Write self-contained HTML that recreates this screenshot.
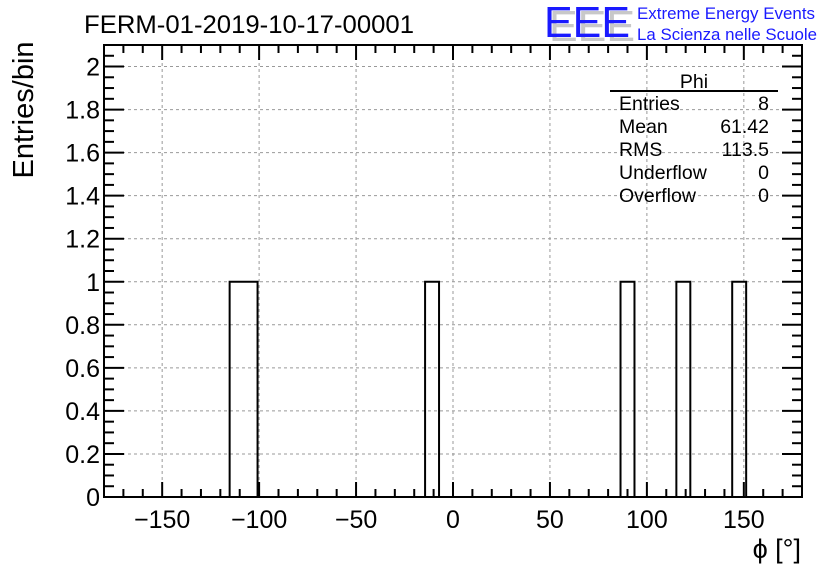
<!DOCTYPE html>
<html><head><meta charset="utf-8"><style>
html,body{margin:0;padding:0;background:#fff;width:836px;height:572px;overflow:hidden}
svg{display:block;font-family:"Liberation Sans",sans-serif}
</style></head><body>
<svg id="chart" width="836" height="572" viewBox="0 0 836 572">
<g id="grid"></g>
<g id="hist"></g>
<g id="axes"></g>
<text x="84" y="33" font-size="25" textLength="330" lengthAdjust="spacingAndGlyphs">FERM-01-2019-10-17-00001</text>
<text transform="translate(33,110) rotate(-90)" text-anchor="middle" font-size="29">Entries/bin</text>
<text x="801" y="558" text-anchor="end" font-size="27">ϕ [°]</text>
<g>
<text x="549" y="41" font-size="44" fill="#c8c8c8" textLength="86" lengthAdjust="spacingAndGlyphs">EEE</text>
<text x="544" y="37" font-size="44" fill="#1a1aff" textLength="86" lengthAdjust="spacingAndGlyphs">EEE</text>
<text x="637" y="19" font-size="17" fill="#1a1aff" textLength="178" lengthAdjust="spacingAndGlyphs">Extreme Energy Events</text>
<text x="637" y="40" font-size="17" fill="#1a1aff" textLength="180" lengthAdjust="spacingAndGlyphs">La Scienza nelle Scuole</text>
</g>
<g font-size="19.5">
<text x="694" y="88" text-anchor="middle">Phi</text>
<line x1="610" y1="91" x2="778" y2="91" stroke="#000" stroke-width="2"/>
<text x="619" y="110">Entries</text><text x="769" y="110" text-anchor="end">8</text>
<text x="619" y="133">Mean</text><text x="769" y="133" text-anchor="end">61.42</text>
<text x="619" y="156">RMS</text><text x="769" y="156" text-anchor="end">113.5</text>
<text x="619" y="179">Underflow</text><text x="769" y="179" text-anchor="end">0</text>
<text x="619" y="202">Overflow</text><text x="769" y="202" text-anchor="end">0</text>
</g>
</svg>
<script>
const binEdgesStart = [-180];
const binWidth = [7.2];
const binCounts = [0,0,0,0,0,0,0,0,0,1,1,0,0,0,0,0,0,0,0,0,0,0,0,1,0,0,0,0,0,0,0,0,0,0,0,0,0,1,0,0,0,1,0,0,0,1,0,0,0,0];
const xTicks = [-150,-100,-50,0,50,100,150];
const xTickLabels = ["\u2212150","\u2212100","\u221250","0","50","100","150"];
const yTicks = [0,0.2,0.4,0.6,0.8,1,1.2,1.4,1.6,1.8,2];
const yTickLabels = ["0","0.2","0.4","0.6","0.8","1","1.2","1.4","1.6","1.8","2"];
const L=104,R=802,T=45,B=497,XMIN=-180,XMAX=180,YMIN=0,YMAX=2.1;
const sx=v=>L+(v-XMIN)/(XMAX-XMIN)*(R-L);
const sy=v=>B-(v-YMIN)/(YMAX-YMIN)*(B-T);
const NS="http://www.w3.org/2000/svg";
function mk(tag,attrs,parent){const e=document.createElementNS(NS,tag);for(const k in attrs)e.setAttribute(k,attrs[k]);parent.appendChild(e);return e;}
const grid=document.getElementById('grid'),axes=document.getElementById('axes'),hist=document.getElementById('hist');
xTicks.forEach(v=>{const l=mk('line',{x1:sx(v),x2:sx(v),y1:T,y2:B,stroke:'#999','stroke-width':1,'stroke-dasharray':'3,3'},grid);

});
yTicks.forEach(v=>{const l=mk('line',{x1:L,x2:R,y1:sy(v),y2:sy(v),stroke:'#999','stroke-width':1,'stroke-dasharray':'3,3'},grid);

});
let d='M'+sx(XMIN)+','+sy(0);
binCounts.forEach((c,i)=>{const x0=sx(binEdgesStart[0]+i*binWidth[0]),x1=sx(binEdgesStart[0]+(i+1)*binWidth[0]);d+=' L'+x0+','+sy(c)+' L'+x1+','+sy(c);});
d+=' L'+sx(XMAX)+','+sy(0);
const hp=mk('path',{d:d,fill:'none',stroke:'#000','stroke-width':2},hist);


binCounts.forEach((c,i)=>{if(c>0){const x0=sx(binEdgesStart[0]+i*binWidth[0]),x1=sx(binEdgesStart[0]+(i+1)*binWidth[0]);
const r=mk('rect',{x:x0,y:sy(c),width:x1-x0,height:sy(0)-sy(c),fill:'none',stroke:'none'},hist);

}});
mk('rect',{x:L,y:T,width:R-L,height:B-T,fill:'none',stroke:'#000','stroke-width':2},axes);
for(let v=-180;v<=180;v+=10){const maj=v%50===0;const len=maj?15:8;
mk('line',{x1:sx(v),x2:sx(v),y1:B,y2:B-len,stroke:'#000','stroke-width':2},axes);
mk('line',{x1:sx(v),x2:sx(v),y1:T,y2:T+len,stroke:'#000','stroke-width':2},axes);}
xTicks.forEach((v,i)=>{const t=mk('text',{x:sx(v),y:528,'text-anchor':'middle','font-size':25},axes);t.textContent=xTickLabels[i];

});
for(let k=0;k<=42;k++){const v=k*0.05;const maj=k%4===0;const len=maj?20:10;
mk('line',{x1:L,x2:L+len,y1:sy(v),y2:sy(v),stroke:'#000','stroke-width':2},axes);
mk('line',{x1:R,x2:R-len,y1:sy(v),y2:sy(v),stroke:'#000','stroke-width':2},axes);}
yTicks.forEach((v,i)=>{const t=mk('text',{x:100,y:sy(v)+9,'text-anchor':'end','font-size':25},axes);t.textContent=yTickLabels[i];

});
</script>
</body></html>
